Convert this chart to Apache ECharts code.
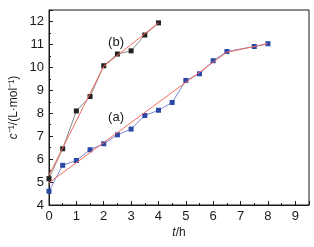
<!DOCTYPE html>
<html><head><meta charset="utf-8">
<script src="https://cdn.jsdelivr.net/npm/echarts@6/dist/echarts.min.js"></script>
<style>html,body{margin:0;padding:0;background:#fff}#c{width:314px;height:247px}</style>
</head><body><div id="c"></div>
<script>
var tA = [0, 0.5, 1, 1.5, 2, 2.5, 3, 3.5, 4, 4.5, 5, 5.5, 6, 6.5, 7.5, 8];
var cA = [4.6, 5.73, 5.94, 6.41, 6.67, 7.06, 7.31, 7.9, 8.13, 8.47, 9.43, 9.72, 10.29, 10.69, 10.91, 11.03];
var tB = [0, 0.5, 1, 1.5, 2, 2.5, 3, 3.5, 4];
var cB = [5.15, 6.45, 8.1, 8.73, 10.07, 10.58, 10.72, 11.41, 11.94];
var fitA = [[0, 4.97], [6.5, 10.66], [8, 11.03]];
var fitB = [[0, 5.3], [2, 10.05], [4, 11.94]];
var labelA = [2.45, 7.83, '(a)'];
var labelB = [2.45, 11.08, '(b)'];

function zip(t, c) { return t.map(function (v, i) { return [v, c[i]]; }); }
var font = 'Liberation Sans, Arial, sans-serif';
var ink = '#1a1a1a';
var chart = echarts.init(document.getElementById('c'), null, {renderer: 'canvas'});
chart.setOption({
  animation: false,
  grid: {left: 49, right: 5, top: 10, bottom: 42, show: true, borderColor: ink, borderWidth: 1, backgroundColor: 'transparent'},
  xAxis: {
    type: 'value', min: 0, max: 9.5, interval: 1,
    name: '{i|t}/h', nameLocation: 'middle', nameGap: 22, nameMoveOverlap: false,
    nameTextStyle: {fontFamily: font, fontSize: 12, color: ink, rich: {i: {fontStyle: 'italic', fontFamily: font, fontSize: 12, color: ink}}},
    axisLine: {onZero: false, lineStyle: {color: ink, width: 1}},
    axisTick: {inside: true, length: 4, lineStyle: {color: ink}},
    minorTick: {show: true, splitNumber: 2, length: 2, lineStyle: {color: ink}},
    axisLabel: {fontFamily: font, fontSize: 13, color: ink, margin: 5,
      formatter: function (v) { return Number.isInteger(v) ? String(v) : ''; }},
    splitLine: {show: false}
  },
  yAxis: {
    type: 'value', min: 4, max: 12.5, interval: 1,
    name: '{i|c}⁻¹/(L·mol⁻¹)', nameLocation: 'middle', nameGap: 29, nameMoveOverlap: false,
    nameTextStyle: {fontFamily: font, fontSize: 12, color: ink, rich: {i: {fontStyle: 'italic', fontFamily: font, fontSize: 12, color: ink}}},
    axisLine: {onZero: false, lineStyle: {color: ink, width: 1}},
    axisTick: {inside: true, length: 4, lineStyle: {color: ink}},
    minorTick: {show: true, splitNumber: 2, length: 2, lineStyle: {color: ink}},
    axisLabel: {fontFamily: font, fontSize: 13, color: ink, margin: 5,
      formatter: function (v) { return Number.isInteger(v) ? String(v) : ''; }},
    splitLine: {show: false}
  },
  series: [
    {type: 'line', data: zip(tA, cA), symbol: 'rect', symbolSize: 5, showSymbol: true,
      lineStyle: {color: '#7b86d2', width: 1}, itemStyle: {color: '#2c48a6', borderWidth: 0}, z: 3},
    {type: 'line', data: zip(tB, cB), symbol: 'rect', symbolSize: 5,
      lineStyle: {color: '#888', width: 1}, itemStyle: {color: '#222', borderWidth: 0}, z: 3},
    {type: 'line', data: fitA, symbol: 'none', lineStyle: {color: '#f26b5b', width: 1}, z: 4},
    {type: 'line', data: fitB, symbol: 'none', lineStyle: {color: '#f26b5b', width: 1}, z: 4},
    {type: 'scatter', data: [labelA, labelB], symbolSize: 1, silent: true,
      itemStyle: {opacity: 0},
      label: {show: true, position: 'inside', formatter: function (p) { return p.data[2]; },
        fontFamily: font, fontSize: 13, color: ink, opacity: 1}}
  ]
});
</script></body></html>
